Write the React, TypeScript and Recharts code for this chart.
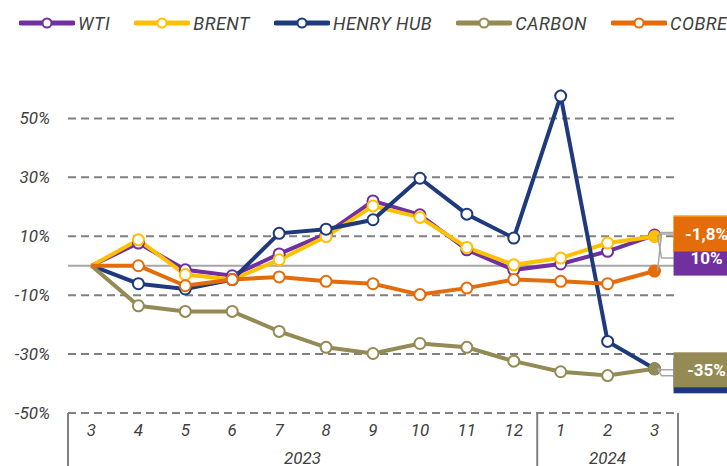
import React from 'react';
import {
  LineChart,
  Line,
  XAxis,
  YAxis,
  ReferenceLine,
  Legend,
} from 'recharts';

// periodos (mes / año)
const months = ['3', '4', '5', '6', '7', '8', '9', '10', '11', '12', '1', '2', '3'];
const years = ['2023', '2023', '2023', '2023', '2023', '2023', '2023', '2023', '2023', '2023', '2024', '2024', '2024'];

// variación acumulada (%)
const wti = [0, 7.7, -1.4, -3.4, 4, 10.8, 22, 17.3, 5.4, -1.4, 0.6, 4.9, 10.4];
const brent = [0, 8.8, -3, -4.7, 2, 9.9, 20.3, 16.4, 6.2, 0.3, 2.6, 7.7, 9.9];
const henryHub = [0, -6.1, -7.9, -4.7, 11, 12.4, 15.6, 29.7, 17.5, 9.4, 57.6, -25.7, -35];
const carbon = [0, -13.6, -15.5, -15.5, -22.3, -27.7, -29.8, -26.4, -27.7, -32.4, -36, -37.3, -35];
const cobre = [0, 0, -6.8, -4.7, -3.8, -5.3, -6.1, -9.8, -7.6, -4.7, -5.3, -6.1, -1.8];

const yTicks = [-50, -30, -10, 10, 30, 50];

const data = months.map((m, i) => ({
  period: `${years[i]}-${m}`,
  wti: wti[i],
  brent: brent[i],
  henry: henryHub[i],
  carbon: carbon[i],
  cobre: cobre[i],
}));

const series = [
  { key: 'wti', name: 'WTI', color: '#7030A0', labelDy: 23 },
  { key: 'brent', name: 'BRENT', color: '#FFC000', labelDy: -4 },
  { key: 'henry', name: 'HENRY HUB', color: '#1F3A7C', labelDy: 7 },
  { key: 'carbon', name: 'CARBON', color: '#948A54', labelDy: 1 },
  { key: 'cobre', name: 'COBRE', color: '#E46C0A', labelDy: -37 },
];

const CHART_W = 727;
const CHART_H = 466;
const MARGIN = { top: 89, right: 49, left: 8, bottom: 0 };
const Y_AXIS_W = 60;
const X_AXIS_H = 53;
const PLOT_BOTTOM = CHART_H - MARGIN.bottom - X_AXIS_H;
const PLOT_W = CHART_W - MARGIN.left - MARGIN.right - Y_AXIS_W;
const BAND = PLOT_W / months.length;
const FONT = 'Roboto, "Open Sans", sans-serif';
const TEXT = '#404040';
const LAST = months.length - 1;

const fmt = (v: number) => {
  if (Math.abs(v) >= 10) return `${Math.trunc(v)}%`;
  return `${v.toFixed(1).replace('.', ',')}%`;
};

function YTick({ x, y, payload }: any) {
  return (
    <text x={x - 10} y={y} dy={6} textAnchor="end" fontFamily={FONT} fontStyle="italic" fontSize={17} fill={TEXT}>
      {payload.value}%
    </text>
  );
}

function XTick({ x, payload }: any) {
  const i = payload.index;
  const yr = years[i];
  const first = i === 0 || years[i - 1] !== yr;
  const count = years.filter((y) => y === yr).length;
  return (
    <g>
      <text x={x} y={PLOT_BOTTOM + 23} textAnchor="middle" fontFamily={FONT} fontStyle="italic" fontSize={17} fill={TEXT}>
        {months[i]}
      </text>
      {first && (
        <>
          <line x1={x - BAND / 2} x2={x - BAND / 2} y1={PLOT_BOTTOM} y2={CHART_H} stroke="#808080" strokeWidth={2} />
          <text x={x + ((count - 1) / 2) * BAND} y={PLOT_BOTTOM + 51} textAnchor="middle" fontFamily={FONT} fontStyle="italic" fontSize={17} fill={TEXT}>
            {yr}
          </text>
        </>
      )}
      {i === LAST && (
        <line x1={x + BAND / 2} x2={x + BAND / 2} y1={PLOT_BOTTOM} y2={CHART_H} stroke="#808080" strokeWidth={2} />
      )}
    </g>
  );
}

function makeDot(color: string) {
  return (props: any) => {
    const { cx, cy, index } = props;
    if (index === 0 || cx == null) return <g key={`d-${index}`} />;
    return (
      <circle
        key={`d-${index}`}
        cx={cx}
        cy={cy}
        r={5.5}
        fill={index === LAST ? color : '#FFFFFF'}
        stroke={color}
        strokeWidth={2}
      />
    );
  };
}

function makeEndLabel(color: string, dy: number) {
  return (props: any) => {
    const { x, y, value, index } = props;
    if (index !== LAST) return <g key={`l-${index}`} />;
    const cyBox = y + dy;
    const bx = x + 19;
    return (
      <g key={`l-${index}`}>
        <polyline
          points={`${x + 3},${y} ${x + 7},${cyBox} ${bx},${cyBox}`}
          fill="none"
          stroke="#A6A6A6"
          strokeWidth={1.5}
        />
        <rect x={bx} y={cyBox - 17.5} width={64} height={35} fill={color} />
        <text x={bx + 33} y={cyBox} dy={6} textAnchor="middle" fontFamily={FONT} fontWeight={700} fontSize={17} fill="#FFFFFF">
          {fmt(value)}
        </text>
      </g>
    );
  };
}

function LegendContent() {
  return (
    <div style={{ display: 'flex', alignItems: 'center', paddingLeft: 19, height: 30 }}>
      {series.map((s) => (
        <div key={s.key} style={{ display: 'flex', alignItems: 'center', marginRight: 24 }}>
          <svg width={56} height={14}>
            <line x1={2} x2={54} y1={7} y2={7} stroke={s.color} strokeWidth={5} strokeLinecap="round" />
            <circle cx={28} cy={7} r={4.5} fill="#FFFFFF" stroke={s.color} strokeWidth={2} />
          </svg>
          <span
            style={{
              marginLeft: 3,
              fontFamily: FONT,
              fontStyle: 'italic',
              fontSize: 18,
              color: TEXT,
              whiteSpace: 'nowrap',
              letterSpacing: 0.5,
            }}
          >
            {s.name}
          </span>
        </div>
      ))}
    </div>
  );
}

export default function App() {
  return (
    <div style={{ position: 'absolute', left: 0, top: 0, width: CHART_W, height: CHART_H, background: '#FFFFFF', overflow: 'hidden' }}>
      <LineChart width={CHART_W} height={CHART_H} data={data} margin={MARGIN}>
        <XAxis
          dataKey="period"
          scale="band"
          height={X_AXIS_H}
          axisLine={false}
          tickLine={false}
          interval={0}
          tick={<XTick />}
        />
        <YAxis
          width={Y_AXIS_W}
          domain={[-50, 60]}
          ticks={yTicks}
          axisLine={false}
          tickLine={false}
          tick={<YTick />}
          allowDataOverflow
        />
        {yTicks.map((t) => (
          <ReferenceLine key={t} y={t} stroke="#808080" strokeWidth={2} strokeDasharray="8 5" />
        ))}
        <ReferenceLine y={0} stroke="#A6A6A6" strokeWidth={2} />
        <Legend
          verticalAlign="middle"
          align="center"
          layout="horizontal"
          wrapperStyle={{ top: 8, left: 0, width: CHART_W }}
          content={<LegendContent />}
        />
        {series.map((s) => (
          <Line
            key={s.key}
            type="linear"
            dataKey={s.key}
            name={s.name}
            stroke={s.color}
            strokeWidth={4}
            dot={makeDot(s.color)}
            activeDot={false}
            label={makeEndLabel(s.color, s.labelDy)}
            isAnimationActive={false}
          />
        ))}
      </LineChart>
    </div>
  );
}
